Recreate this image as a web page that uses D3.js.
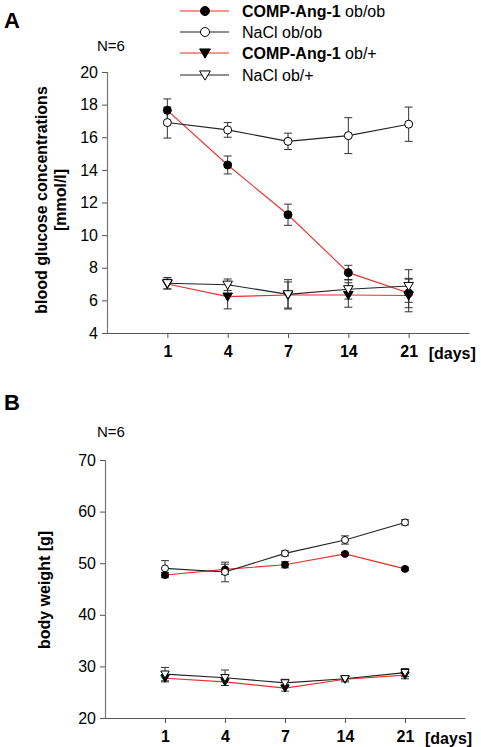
<!DOCTYPE html>
<html><head><meta charset="utf-8">
<script src="https://cdn.jsdelivr.net/npm/d3@7"></script>
<style>body{margin:0;background:#fff}svg{font-family:"Liberation Sans",Arial,sans-serif}</style>
</head><body>
<script>
const days = ["1","4","7","14","21"];
const seriesNames = ["COMP-Ang-1 ob/ob","NaCl ob/ob","COMP-Ang-1 ob/+","NaCl ob/+"];
const yTicksA = [4,6,8,10,12,14,16,18,20];
const yTicksB = [20,30,40,50,60,70];
// Panel A: blood glucose (mmol/l)
const glucCompObOb = [17.65,14.3,11.25,7.7,6.45];
const glucCompObObErr = [0.7,0.55,0.65,0.45,0.9];
const glucNaclObOb = [16.9,16.45,15.75,16.1,16.8];
const glucNaclObObErr = [0.95,0.45,0.5,1.1,1.05];
const glucCompObPl = [7.0,6.23,6.33,6.33,6.3];
const glucCompObPlErr = [0.3,0.75,0.8,0.75,1.0];
const glucNaclObPl = [7.05,6.96,6.37,6.68,6.88];
const glucNaclObPlErr = [0.35,0.35,0.9,0.6,1.0];
// Panel B: body weight (g)
const bwCompObOb = [47.7,48.8,49.7,51.8,48.9];
const bwCompObObErr = [0.5,1.0,0.6,0.3,0.3];
const bwNaclObOb = [49.0,48.3,51.9,54.5,57.9];
const bwNaclObObErr = [1.5,1.9,0.5,0.8,0.5];
const bwCompObPl = [27.7,27.0,25.8,27.5,28.3];
const bwCompObPlErr = [0.7,0.7,0.6,0.5,0.7];
const bwNaclObPl = [28.5,27.8,26.8,27.6,28.8];
const bwNaclObPlErr = [1.3,1.5,0.7,0.4,0.8];

const W=481,H=747;
const svg=d3.select("body").append("svg").attr("width",W).attr("height",H);

const styles=[
  {line:"#e8302c",shape:"circle",fill:"#000"},
  {line:"#222",shape:"circle",fill:"#fff"},
  {line:"#e8302c",shape:"tri",fill:"#000"},
  {line:"#222",shape:"tri",fill:"#fff"}
];

function marker(g,x,y,st,sz){
  if(st.shape==="circle"){
    g.append("circle").attr("cx",x).attr("cy",y).attr("r",sz).attr("fill",st.fill).attr("stroke","#000").attr("stroke-width",1);
  } else {
    const s=sz*1.2;
    g.append("path").attr("d",`M${x-s},${y-s*0.75}L${x+s},${y-s*0.75}L${x},${y+s*0.95}Z`).attr("fill",st.fill).attr("stroke","#000").attr("stroke-width",1);
  }
}

function panel(opt){
  const g=svg.append("g");
  const x=d3.scaleLinear().domain([-1,5]).range([opt.x0,opt.x1]);
  const y=d3.scaleLinear().domain(opt.ydom).range([opt.yb,opt.yt]);
  const ya=g.append("g").attr("transform",`translate(${opt.x0},0)`).call(d3.axisLeft(y).tickValues(opt.yticks).tickSize(5).tickPadding(4));
  ya.select(".domain").attr("stroke","#777").attr("stroke-width",1.2);
  ya.selectAll(".tick line").attr("stroke","#555");
  ya.selectAll("text").attr("font-size",16).attr("fill","#000").attr("font-family","Liberation Sans, Arial");
  const xa=g.append("g").attr("transform",`translate(0,${opt.yb})`).call(d3.axisBottom(x).tickValues([0,1,2,3,4]).tickFormat(i=>days[i]).tickSize(5).tickPadding(8).tickSizeOuter(0));
  xa.select(".domain").attr("stroke","#555").attr("stroke-width",1.2);
  xa.selectAll(".tick line").attr("stroke","#555");
  xa.selectAll("text").attr("font-size",16).attr("font-weight","bold").attr("fill","#000").attr("font-family","Liberation Sans, Arial");
  g.append("text").attr("x",x(4)+20).attr("y",opt.yb+26).attr("font-size",16).attr("font-weight","bold").text("[days]");
  const line=d3.line().x((d,i)=>x(i)).y(d=>y(d));
  opt.series.forEach((s,k)=>{
    g.append("path").datum(s.v).attr("d",line).attr("fill","none").attr("stroke",styles[k].line).attr("stroke-width",1.1);
  });
  opt.series.forEach((s,k)=>{
    s.v.forEach((v,i)=>{
      const cx=x(i),e=s.e[i];
      g.append("line").attr("x1",cx).attr("x2",cx).attr("y1",y(v+e)).attr("y2",y(v-e)).attr("stroke","#333").attr("stroke-width",1);
      [v+e,v-e].forEach(t=>g.append("line").attr("x1",cx-4).attr("x2",cx+4).attr("y1",y(t)).attr("y2",y(t)).attr("stroke","#333").attr("stroke-width",1));
    });
  });
  opt.series.forEach((s,k)=>{
    s.v.forEach((v,i)=>marker(g,x(i),y(v),styles[k],opt.msz));
  });
  g.append("text").attr("x",opt.nx).attr("y",opt.ny).attr("font-size",15).text("N=6");
  g.append("text").attr("x",4).attr("y",opt.letterY).attr("font-size",22).attr("font-weight","bold").text(opt.letter);
  const lab=g.append("text").attr("transform",`translate(${opt.labX},${opt.labY}) rotate(-90)`).attr("text-anchor","middle").attr("font-size",16).attr("font-weight","bold");
  opt.labLines.forEach((t,i)=>lab.append("tspan").attr("x",0).attr("dy",i===0?0:19).text(t));
}

panel({x0:107,x1:469,yb:333,yt:72,ydom:[4,20],yticks:yTicksA,nx:97,ny:51,letter:"A",letterY:28,msz:4,
  labX:47,labY:200,labLines:["blood glucose concentrations","[mmol/l]"],
  series:[{v:glucCompObOb,e:glucCompObObErr},{v:glucNaclObOb,e:glucNaclObObErr},{v:glucCompObPl,e:glucCompObPlErr},{v:glucNaclObPl,e:glucNaclObPlErr}]});
panel({x0:105,x1:465,yb:718,yt:460,ydom:[20,70],yticks:yTicksB,nx:97,ny:437,letter:"B",letterY:410,msz:3.5,
  labX:50,labY:590,labLines:["body weight [g]"],
  series:[{v:bwCompObOb,e:bwCompObObErr},{v:bwNaclObOb,e:bwNaclObObErr},{v:bwCompObPl,e:bwCompObPlErr},{v:bwNaclObPl,e:bwNaclObPlErr}]});

const lg=svg.append("g");
const legY=[11,32,53,75];
seriesNames.forEach((n,k)=>{
  const yy=legY[k];
  lg.append("line").attr("x1",180).attr("x2",229).attr("y1",yy).attr("y2",yy).attr("stroke",styles[k].line).attr("stroke-width",1.2);
  marker(lg,205,yy,styles[k],4.5);
  const t=lg.append("text").attr("x",242).attr("y",yy+5.5).attr("font-size",16);
  const parts=n.split(" ");
  if(parts[0]==="COMP-Ang-1"){
    t.append("tspan").attr("font-weight","bold").text("COMP-Ang-1");
    t.append("tspan").text(" "+parts[1]);
  } else t.text(n);
});
</script>
</body></html>
